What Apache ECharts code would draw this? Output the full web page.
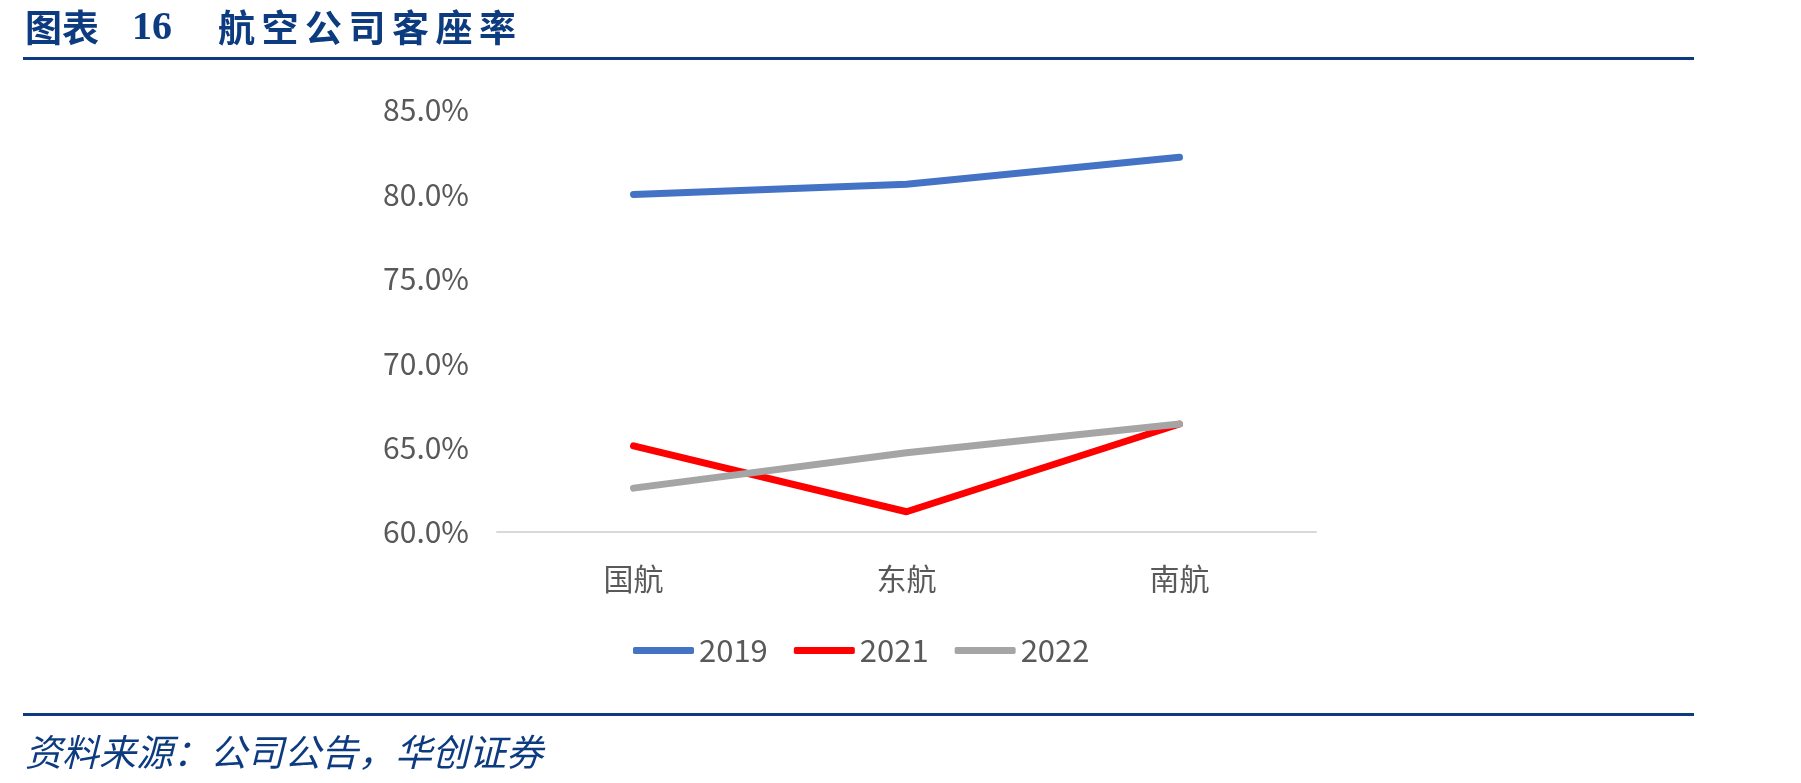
<!DOCTYPE html>
<html>
<head>
<meta charset="utf-8">
<script src="https://cdn.jsdelivr.net/npm/echarts@6/dist/echarts.min.js"></script>
<style>
  html, body { margin: 0; padding: 0; background: #fff; }
  #chart { width: 1801px; height: 783px; }
</style>
</head>
<body>
<div id="chart"></div>
<script>
// 航空公司
const airlines = ['国航', '东航', '南航']
// 各年份客座率（%）
const load2019 = [80.0, 80.6, 82.2]
const load2021 = [65.1, 61.2, 66.4]
const load2022 = [62.6, 64.7, 66.4]
const yearNames = ['2019', '2021', '2022']
const colors = ['#4472c4', '#ff0000', '#a5a5a5']

const blue = '#0c3b80'
const font = 'Noto Sans CJK SC'

let myChart = echarts.init(document.getElementById('chart'))

// 标题文字，逐字排开
let titleChars = '航空公司客座率'.split('').map((ch, i) => ({
    type: 'text', left: 218 + i * 43.5, top: 9,
    style: { text: ch, fill: blue, font: 'bold 37px "Noto Sans CJK SC"' }
}))

let option = {
    backgroundColor: '#fff',
    textStyle: { fontFamily: font },
    graphic: [
        { type: 'text', left: 25, top: 9, style: { text: '图表', fill: blue, font: 'bold 37px "Noto Sans CJK SC"' } },
        { type: 'text', left: 132, top: 9, style: { text: '16', fill: blue, font: 'bold 40px "Liberation Serif"' } },
        ...titleChars,
        { type: 'rect', shape: { x: 23, y: 57, width: 1671, height: 3 }, style: { fill: blue } },
        { type: 'rect', shape: { x: 23, y: 713, width: 1671, height: 3 }, style: { fill: blue } },
        // 资料来源
        {
            type: 'text', left: 25, top: 733,
            style: { text: '资料来源：公司公告，华创证券', fill: blue, font: 'italic 37px "Noto Sans CJK SC"' }
        }
    ],
    legend: {
        data: yearNames,
        bottom: 117,
        left: 633,
        padding: 0,
        icon: 'roundRect',
        itemWidth: 61,
        itemHeight: 7,
        itemGap: 26,
        textStyle: { fontSize: 31, color: '#595959' }
    },
    grid: { left: 497, right: 485, top: 110, bottom: 251 },
    xAxis: {
        type: 'category',
        data: airlines,
        axisLine: { lineStyle: { color: '#d9d9d9', width: 2 } },
        axisTick: { show: false },
        axisLabel: { fontSize: 30, color: '#595959', margin: 32 }
    },
    yAxis: {
        type: 'value',
        min: 60, max: 85, interval: 5,
        axisLine: { show: false },
        axisTick: { show: false },
        splitLine: { show: false },
        axisLabel: {
            fontSize: 30, color: '#595959', margin: 28,
            formatter: v => v.toFixed(1) + '%'
        }
    },
    series: [
        { name: '2019', type: 'line', data: load2019 },
        { name: '2021', type: 'line', data: load2021 },
        { name: '2022', type: 'line', data: load2022 }
    ].map((s, i) => ({
        ...s,
        symbol: 'none',
        lineStyle: { color: colors[i], width: 7, cap: 'round' },
        itemStyle: { color: colors[i] }
    }))
}
myChart.setOption(option)
</script>
</body>
</html>
